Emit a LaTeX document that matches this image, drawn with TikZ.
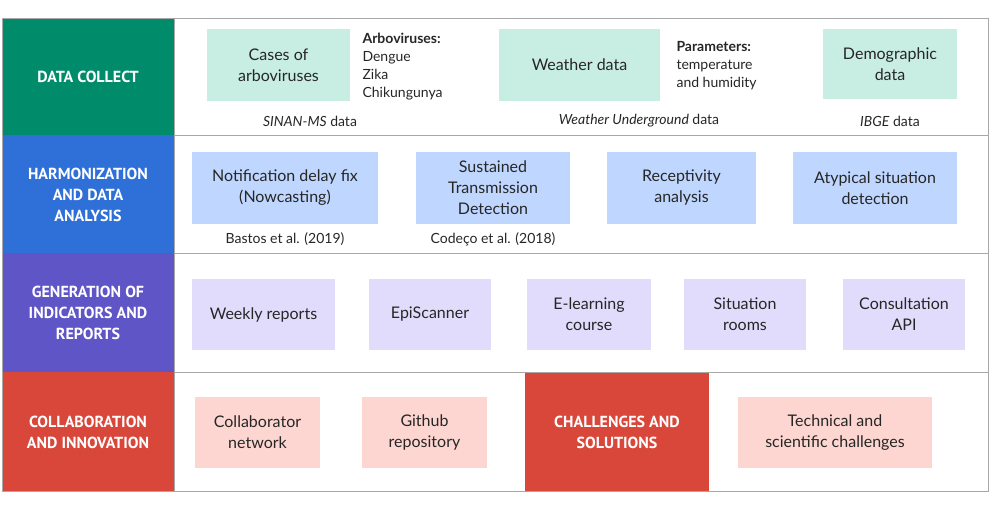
\documentclass[tikz,border=0pt]{standalone}
\usepackage{fontspec}
\setmainfont{Lato}
\newfontfamily\lab{PT Sans}
\definecolor{cg}{HTML}{008C6A}
\definecolor{cb}{HTML}{2E6FD8}
\definecolor{cp}{HTML}{5F55C6}
\definecolor{cr}{HTML}{D9473A}
\definecolor{lg}{HTML}{C8EDE3}
\definecolor{lb}{HTML}{BFD6FE}
\definecolor{lp}{HTML}{E1DCFC}
\definecolor{lr}{HTML}{FDD6D1}
\definecolor{gl}{HTML}{A8A8A8}
\begin{document}
\begin{tikzpicture}[x=1pt,y=-1pt,
 hdr/.style={text=white,font=\lab\bfseries\fontsize{16}{21}\selectfont,align=center},
 bx/.style={align=center,font=\fontsize{16}{21}\selectfont,text=black!85},
 captxt/.style={font=\fontsize{14}{17}\selectfont,text=black!85},
 side/.style={align=left,font=\fontsize{14}{18}\selectfont,text=black!85,anchor=north west}]
\useasboundingbox (0,0) rectangle (990,506);
% left headers
\fill[cg] (2,18) rectangle (174,135);
\fill[cb] (2,135) rectangle (174,253);
\fill[cp] (2,253) rectangle (174,372);
\fill[cr] (2,372) rectangle (174,491);
\node[hdr] (h1) at (88,77) {DATA COLLECT};
\node[hdr] (h2) at (88,195) {HARMONIZATION\\AND DATA\\ANALYSIS};
\node[hdr] (h3) at (88,313) {GENERATION OF\\INDICATORS AND\\REPORTS};
\node[hdr] (h4) at (88,432) {COLLABORATION\\AND INNOVATION};
% grid
\draw[gl,line width=1pt] (2,18) rectangle (988,491);
\foreach \y in {135,253,372} \draw[gl,line width=1pt] (174,\y) -- (988,\y);
\draw[gl,line width=1pt] (174,18) -- (174,491);
% row1
\fill[lg] (207,29) rectangle (350,101); \node[bx] (a1) at (278.5,65) {Cases of\\arboviruses};
\node[side] (a2) at (359,30) {\textbf{Arboviruses:}\\Dengue\\Zika\\Chikungunya};
\fill[lg] (499,29) rectangle (660,101); \node[bx] (a3) at (579.5,65) {Weather data};
\node[side] (a4) at (673,38) {\textbf{Parameters:}\\temperature\\and humidity};
\fill[lg] (823,29) rectangle (957,99); \node[bx] (a5) at (890,64) {Demographic\\data};
\node[captxt] (c1) at (310,121) {\textit{SINAN-MS} data};
\node[captxt] (c2) at (639,121) {\textit{Weather Underground} data};
\node[captxt] (c3) at (890,121) {\textit{IBGE} data};
% row2
\fill[lb] (192,152) rectangle (378,224); \node[bx] (b1) at (285,188) {Notification delay fix\\(Nowcasting)};
\fill[lb] (416,152) rectangle (570,224); \node[bx] (b2) at (493,188) {Sustained\\Transmission\\Detection};
\fill[lb] (607,152) rectangle (756,224); \node[bx] (b3) at (681.5,188) {Receptivity\\analysis};
\fill[lb] (793,152) rectangle (957,224); \node[bx] (b4) at (875,188) {Atypical situation\\detection};
\node[captxt] (c4) at (285,239) {Bastos et al. (2019)};
\node[captxt] (c5) at (493,239) {Codeço et al. (2018)};
% row3
\fill[lp] (192,279) rectangle (335,350); \node[bx] (d1) at (263.5,314.5) {Weekly reports};
\fill[lp] (369,279) rectangle (491,350); \node[bx] (d2) at (430,314.5) {EpiScanner};
\fill[lp] (527,279) rectangle (651,350); \node[bx] (d3) at (589,314.5) {E-learning\\course};
\fill[lp] (684,279) rectangle (806,350); \node[bx] (d4) at (745,314.5) {Situation\\rooms};
\fill[lp] (843,279) rectangle (965,350); \node[bx] (d5) at (904,314.5) {Consultation\\API};
% row4
\fill[lr] (195,397) rectangle (320,468); \node[bx] (e1) at (257.5,432.5) {Collaborator\\network};
\fill[lr] (362,397) rectangle (487,468); \node[bx] (e2) at (424.5,432.5) {Github\\repository};
\fill[cr] (525,373) rectangle (709,491); \node[hdr] (e3) at (617,432) {CHALLENGES AND\\SOLUTIONS};
\fill[lr] (738,397) rectangle (932,468); \node[bx] (e4) at (835,432.5) {Technical and\\scientific challenges};
\end{tikzpicture}
\end{document}
